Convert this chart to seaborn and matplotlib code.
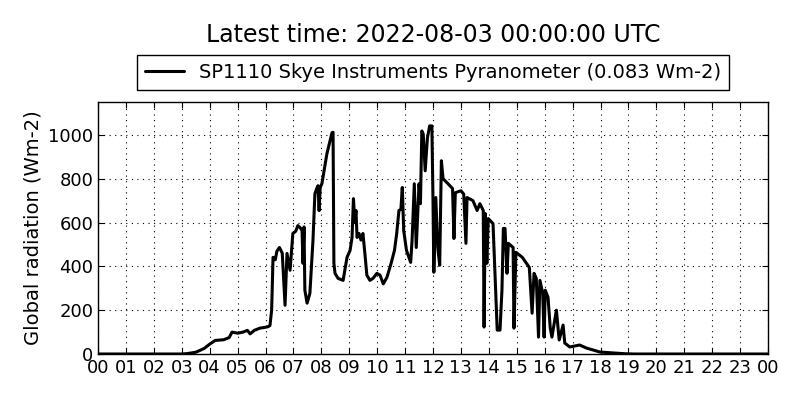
# Imports
import pandas as pd
import numpy as np
import seaborn as sns
import matplotlib
matplotlib.use("Agg")
import matplotlib.pyplot as plt
import matplotlib.dates as mdates

sns.set_style('ticks')
plt.rcParams['font.family'] = ['DejaVu Sans']
# plain black text like the old matplotlib look
for k in ['text.color', 'axes.labelcolor', 'xtick.color', 'ytick.color']:
    plt.rcParams[k] = 'black'

# Readings (hours since midnight, Wm-2) picked off the plot
hours = [0.0, 3.0, 3.2, 3.5, 3.8, 4.0, 4.2, 4.5, 4.7, 4.8, 5.0, 5.2, 5.35, 5.45, 5.6,
         5.8, 6.0, 6.1, 6.16, 6.22, 6.27, 6.35, 6.41, 6.5, 6.6, 6.7, 6.77, 6.88, 6.98,
         7.08, 7.16, 7.25, 7.31, 7.34, 7.38, 7.41, 7.49, 7.59, 7.70, 7.77, 7.85, 7.88,
         7.92, 7.96, 8.02, 8.20, 8.38, 8.42, 8.45, 8.49, 8.6, 8.78, 8.92, 9.03, 9.10,
         9.15, 9.20, 9.24, 9.28, 9.35, 9.42, 9.49, 9.56, 9.63, 9.74, 9.85, 9.99, 10.1,
         10.22, 10.35, 10.5, 10.62, 10.7, 10.78, 10.85, 10.9, 10.95, 11.05, 11.2, 11.25,
         11.33, 11.4, 11.5, 11.55, 11.6, 11.65, 11.72, 11.8, 11.88, 11.96, 12.0, 12.03,
         12.1, 12.17, 12.24, 12.3, 12.36, 12.5, 12.7, 12.75, 12.8, 13.0, 13.1, 13.18,
         13.22, 13.43, 13.58, 13.68, 13.8, 13.83, 13.87, 13.93, 13.98, 14.15, 14.23,
         14.3, 14.4, 14.47, 14.52, 14.58, 14.65, 14.7, 14.87, 14.9, 14.97, 15.2, 15.45,
         15.55, 15.62, 15.7, 15.78, 15.83, 15.93, 15.98, 16.02, 16.12, 16.2, 16.26,
         16.42, 16.52, 16.66, 16.72, 16.9, 17.25, 17.5, 17.98, 18.45, 18.9, 19.2, 24.0]
radiation = [0, 0, 2, 8, 25, 45, 62, 65, 75, 100, 95, 100, 108, 92, 108,
             118, 122, 125, 130, 200, 441, 430, 470, 486, 460, 222, 459, 382, 550,
             560, 586, 575, 563, 414, 580, 291, 232, 277, 518, 732, 760, 768,
             654, 760, 777, 914, 1009, 1012, 414, 368, 345, 336, 441, 473, 532,
             709, 600, 655, 532, 550, 520, 550, 459, 360, 336, 345, 368, 360,
             320, 350, 414, 473, 550, 655, 660, 760, 564, 473, 418, 518,
             777, 486, 777, 686, 1018, 1004, 836, 986, 1041, 1041, 700, 373,
             714, 486, 405, 882, 800, 782, 755, 527, 736, 745, 730, 505,
             714, 700, 655, 686, 655, 123, 641, 414, 618, 595, 336,
             109, 109, 291, 573, 573, 368, 505, 486, 118, 464, 441, 395,
             186, 368, 345, 77, 336, 277, 77, 291, 259, 118, 77,
             200, 64, 132, 50, 32, 41, 27, 9, 5, 1, 0, 0]

day = pd.Timestamp("2022-08-02 00:00")
df = pd.DataFrame({"time": day + pd.to_timedelta(hours, unit="h"),
                   "radiation": radiation})

fig = plt.figure(figsize=(8, 4), dpi=100, facecolor='white')
ax = fig.add_axes([0.1225, 0.115, 0.8375, 0.63])

sns.lineplot(data=df, x="time", y="radiation", color='black', linewidth=2.2,
             label="SP1110 Skye Instruments Pyranometer (0.083 Wm-2)", ax=ax)

ax.set_xlim(day, day + pd.Timedelta(hours=24))
ax.set_ylim(0, 1150)
ax.xaxis.set_major_locator(mdates.HourLocator())
ax.xaxis.set_major_formatter(mdates.DateFormatter('%H'))
ax.set_yticks([0, 200, 400, 600, 800, 1000])
ax.set_xlabel("")
ax.set_ylabel("Global radiation (Wm-2)", fontsize=14)

# classic look: inward ticks on all sides, dotted grid
ax.tick_params(direction='in', top=True, right=True, length=4, labelsize=13,
               colors='black')
ax.grid(True, linestyle=(0, (1, 4)), color='black', linewidth=0.8)
for s in ax.spines.values():
    s.set_linewidth(1)
    s.set_color('black')

leg = ax.legend(loc='lower center', bbox_to_anchor=(0.5, 1.048), fontsize=14,
                fancybox=False, edgecolor='black', framealpha=1, borderaxespad=0)
leg.get_frame().set_linewidth(1)

fig.text(433 / 800, 1 - 35 / 400, "Latest time: 2022-08-03 00:00:00 UTC",
         ha='center', va='center', fontsize=17)

fig.savefig("out.png", dpi=100, facecolor='white')
